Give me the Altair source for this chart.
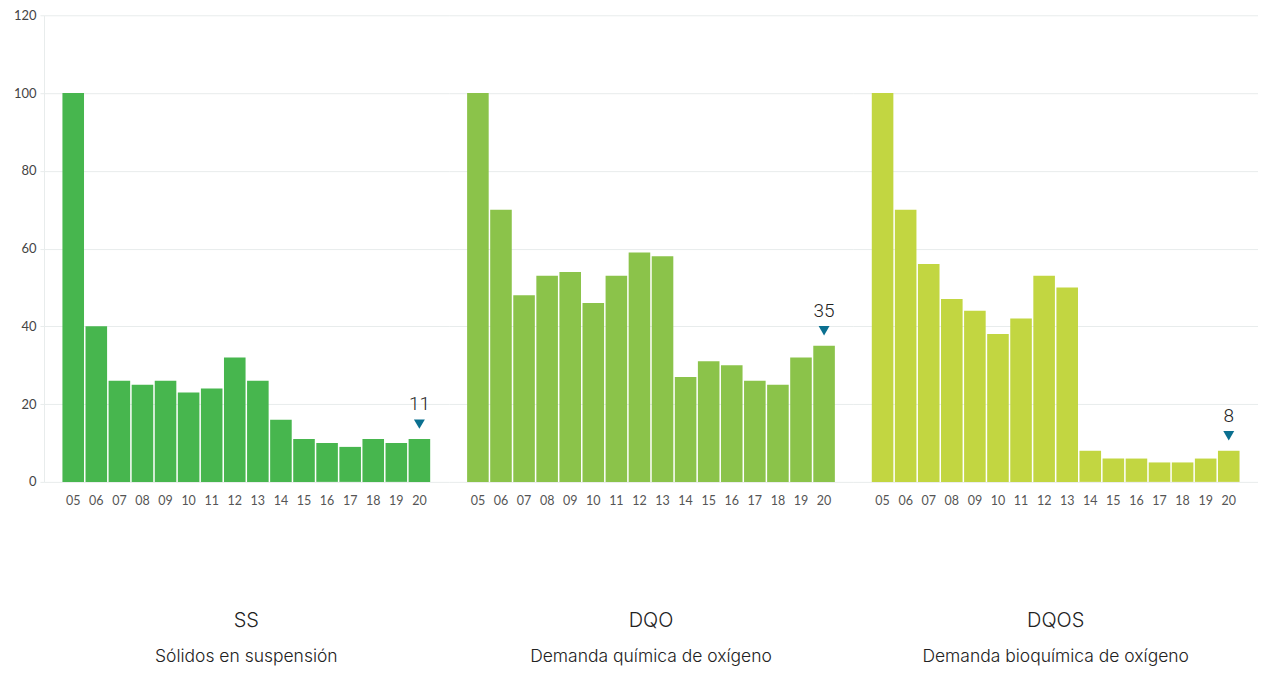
import altair as alt
import pandas as pd

years = ["05", "06", "07", "08", "09", "10", "11", "12", "13", "14", "15", "16", "17", "18", "19", "20"]
ss_values = [100, 40, 26, 25, 26, 23, 24, 32, 26, 16, 11, 10, 9, 11, 10, 11]
dqo_values = [100, 70, 48, 53, 54, 46, 53, 59, 58, 27, 31, 30, 26, 25, 32, 35]
dqos_values = [100, 70, 56, 47, 44, 38, 42, 53, 50, 8, 6, 6, 5, 5, 6, 8]

codes = ["SS", "DQO", "DQOS"]
names = ["Sólidos en suspensión", "Demanda química de oxígeno", "Demanda bioquímica de oxígeno"]
colors = ["#47b64e", "#8bc34a", "#c2d641"]
series = [ss_values, dqo_values, dqos_values]

y_ticks = [0, 20, 40, 60, 80, 100, 120]
GRID = "#e8ecec"


def panel(code, name, vals, color, first):
    df = pd.DataFrame({"year": years, "value": vals})
    last = df.tail(1)
    if first:
        yaxis = alt.Axis(values=y_ticks, title=None, grid=True, gridColor=GRID,
                         domain=True, domainColor=GRID, ticks=True, tickColor=GRID,
                         tickSize=4, labelPadding=4, labelFont="Lato", labelFontSize=13,
                         labelColor="#444")
    else:
        yaxis = alt.Axis(values=y_ticks, title=None, grid=True, gridColor=GRID,
                         domain=False, ticks=False, labels=False)
    x = alt.X("year:N", sort=years,
              scale=alt.Scale(paddingInner=0.065, paddingOuter=0.8),
              axis=alt.Axis(title=None, labelAngle=0, ticks=False, domain=False,
                            grid=False, labelPadding=13, labelFont="Lato",
                            labelFontSize=12.5, labelColor="#555"))
    y = alt.Y("value:Q", scale=alt.Scale(domain=[0, 120], nice=False), axis=yaxis)
    bars = alt.Chart(df).mark_bar(color=color).encode(x=x, y=y)
    tri = alt.Chart(last).mark_point(shape="triangle-down", filled=True, color="#0b7090",
                                     size=120, opacity=1, yOffset=-15).encode(x=x, y=y)
    txt = alt.Chart(last).mark_text(baseline="bottom", dy=-25, fontSize=19, font="Roboto",
                                    fontWeight=300, color="#222").encode(x=x, y=y, text="value:Q")
    return alt.layer(bars, tri, txt).properties(
        width=405, height=467,
        title=alt.TitleParams(text=code, subtitle=name, orient="bottom", anchor="middle",
                              offset=104, font="Inter", fontSize=20, fontWeight=300,
                              color="#222", subtitleFont="Inter", subtitleFontSize=17.5,
                              subtitleFontWeight=300,
                              subtitleColor="#222", subtitlePadding=17))


panels = [panel(c, n, v, col, i == 0) for i, (c, n, v, col) in enumerate(zip(codes, names, series, colors))]
chart = alt.hconcat(*panels, spacing=0).configure_view(stroke=None).properties(
    padding={"left": 5, "top": 1, "right": 0, "bottom": 0})
chart.save("out.html", embed_options={"renderer": "svg", "actions": False})
